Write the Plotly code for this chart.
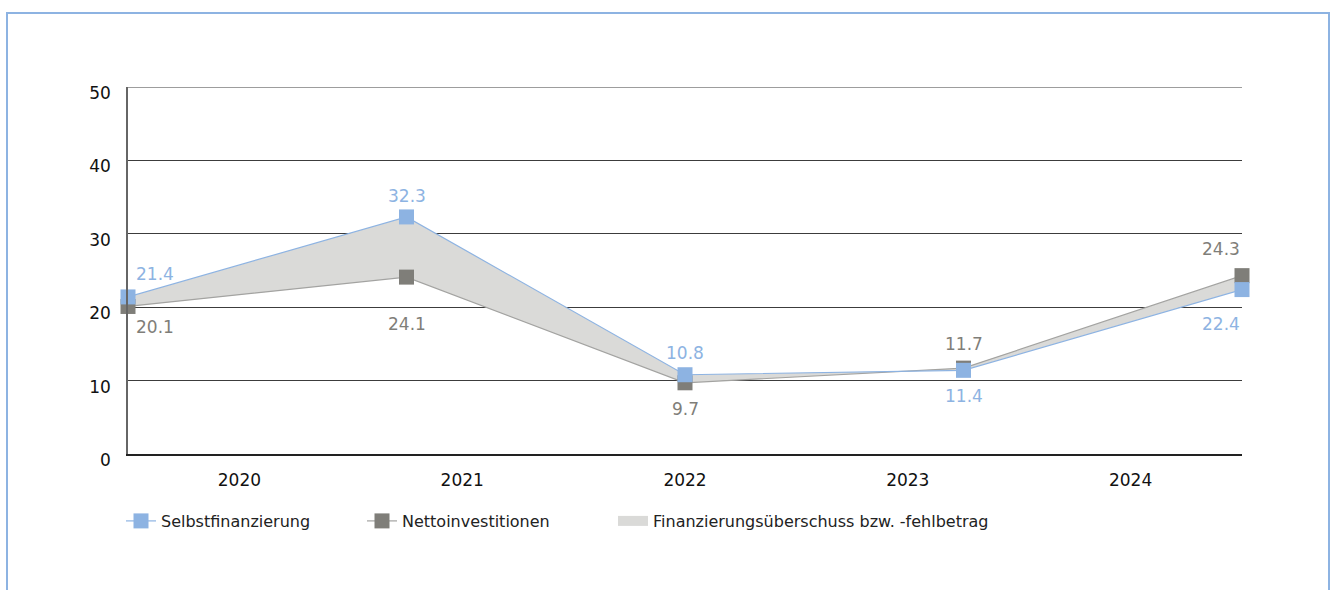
import plotly.graph_objects as go

years = ["2020", "2021", "2022", "2023", "2024"]
selbstfinanzierung = [21.4, 32.3, 10.8, 11.4, 22.4]
nettoinvestitionen = [20.1, 24.1, 9.7, 11.7, 24.3]
y_ticks = [0, 10, 20, 30, 40, 50]

BLUE = "#8DB3E2"
GRAY_M = "#7F7E79"
GRAY_L = "#A3A3A1"
GRID = "#3C3C3C"
FILL = "#DADAD8"
FONT = "DejaVu Sans"

# label placement style (pixel offsets from each point; positive = below)
blue_anchor = ["left", "center", "center", "center", "right"]
blue_dx = [6, 0, 0, 0, 0]
blue_dy = [-23, -21, -22, 26, 34]
gray_anchor = ["left", "center", "center", "center", "right"]
gray_dx = [6, 0, 0, 0, 0]
gray_dy = [21, 47, 26, -24, -27]

n = len(years)
xs = list(range(n))
band = (n - 1) / n
tick_pos = [band * (i + 0.5) for i in range(n)]

fig = go.Figure()
fig.add_trace(go.Scatter(x=xs, y=nettoinvestitionen, mode="lines", line=dict(width=0),
                         showlegend=False, hoverinfo="skip", legendgroup="fill"))
fig.add_trace(go.Scatter(x=xs, y=selbstfinanzierung, mode="lines", line=dict(width=0),
                         fill="tonexty", fillcolor=FILL, showlegend=False,
                         name="Finanzierungsüberschuss bzw. -fehlbetrag", legendgroup="fill"))
fig.add_trace(go.Scatter(x=[None], y=[None], mode="lines",
                         line=dict(color=FILL, width=16),
                         name="Finanzierungsüberschuss bzw. -fehlbetrag",
                         legendgroup="fill", legend="legend2"))
fig.add_trace(go.Scatter(x=xs, y=nettoinvestitionen, mode="lines+markers",
                         name="Nettoinvestitionen", legendrank=2,
                         line=dict(color=GRAY_L, width=1.2),
                         marker=dict(symbol="square", size=15, color=GRAY_M),
                         cliponaxis=False))
fig.add_trace(go.Scatter(x=xs, y=selbstfinanzierung, mode="lines+markers",
                         name="Selbstfinanzierung", legendrank=1,
                         line=dict(color=BLUE, width=1.2),
                         marker=dict(symbol="square", size=15, color=BLUE),
                         cliponaxis=False))

for vals, col, anc, dx, dy in [(selbstfinanzierung, BLUE, blue_anchor, blue_dx, blue_dy),
                               (nettoinvestitionen, GRAY_M, gray_anchor, gray_dx, gray_dy)]:
    for i, v in enumerate(vals):
        fig.add_annotation(x=xs[i], y=v, text=f"{v:.1f}", showarrow=False,
                           xanchor=anc[i], yanchor="middle", xshift=dx[i], yshift=-dy[i],
                           font=dict(color=col, size=17, family=FONT))

fig.add_hline(y=y_ticks[-1], line=dict(color=GRID, width=1), layer="below")

L, R, T, B = 128, 93, 87, 136
W, H = 1335, 590
pw, ph = W - L - R, H - T - B

def px_x(p):
    return (p - L) / pw

def px_y(p):
    return (H - B - p) / ph

fig.add_shape(type="rect", xref="paper", yref="paper",
              x0=px_x(7), x1=px_x(1329), y0=px_y(640), y1=px_y(13),
              line=dict(color=BLUE, width=2), fillcolor="rgba(0,0,0,0)", layer="below")

fig.update_layout(
    width=W, height=H,
    margin=dict(l=L, r=R, t=T, b=B),
    paper_bgcolor="white", plot_bgcolor="white",
    font=dict(family=FONT, color="#111111", size=16),
    showlegend=True,
    legend=dict(orientation="h", x=px_x(121), y=px_y(521), xanchor="left", yanchor="middle",
                font=dict(size=16, color="#222222", family=FONT),
                entrywidth=196, entrywidthmode="pixels",
                traceorder="normal", bgcolor="rgba(0,0,0,0)"),
    legend2=dict(orientation="h", x=px_x(613), y=px_y(521), xanchor="left", yanchor="middle",
                 font=dict(size=16, color="#222222", family=FONT),
                 bgcolor="rgba(0,0,0,0)"),
    xaxis=dict(range=[0, n - 1], tickvals=tick_pos, ticktext=years,
               showgrid=False, zeroline=False, showline=True, linecolor="#222222",
               linewidth=1.5, ticks="", ticklabelstandoff=10,
               tickfont=dict(size=17, color="#111111"), fixedrange=True),
    yaxis=dict(range=[0, 50], tickvals=y_ticks, showgrid=True, gridcolor=GRID,
               gridwidth=1, zeroline=False, showline=True, linecolor="#666666",
               linewidth=1.5, ticks="", ticklabelstandoff=12, ticklabelshift=6,
               tickfont=dict(size=17, color="#111111"), fixedrange=True),
)

fig.write_html("out.html", config={"displayModeBar": False},
               post_script="document.body.style.margin='0';document.body.style.overflow='hidden';")
